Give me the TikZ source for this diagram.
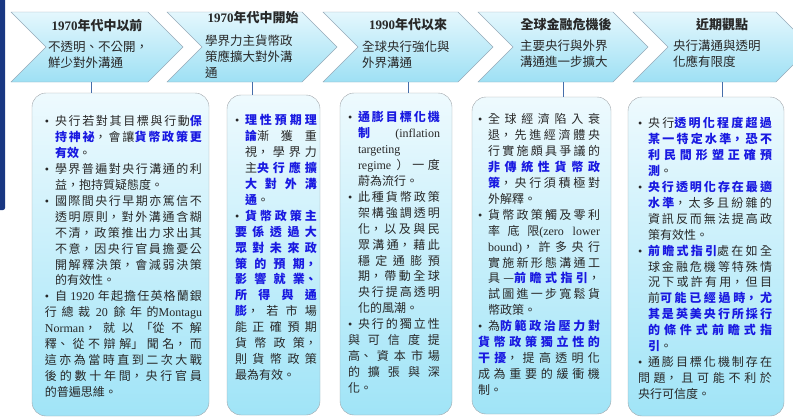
\documentclass[tikz,border=0pt]{standalone}
\usepackage{fontspec}
\setmainfont{Liberation Serif}
\newfontfamily\cjk{Noto Sans CJK TC}
\usepackage{tikz}
\usetikzlibrary{shapes.symbols}

\definecolor{stagetop}{RGB}{228,247,253}
\definecolor{stagebot}{RGB}{158,224,244}
\definecolor{stageline}{RGB}{150,170,185}
\definecolor{boxtop}{RGB}{238,250,254}
\definecolor{boxbot}{RGB}{160,228,247}
\definecolor{boxline}{RGB}{160,165,170}
\definecolor{inkgray}{RGB}{40,40,40}
\definecolor{keyblue}{RGB}{25,25,225}
\definecolor{linkblue}{RGB}{70,110,170}
\definecolor{navybar}{RGB}{25,55,130}

\XeTeXlinebreaklocale "zh"
\XeTeXlinebreakskip=0pt plus 2pt
\tolerance=10000
\hbadness=10000

\newlength{\bulw}
\setlength{\bulw}{10pt}
\newcommand{\bul}{\par\noindent\hangindent=\bulw\hangafter=1\makebox[\bulw][l]{\rmfamily\textbullet}\ignorespaces}
\newcommand{\kb}[1]{{\color{keyblue}\bfseries #1}}
\newcommand{\eng}[1]{{\rmfamily #1}}

\begin{document}
\begin{tikzpicture}[x=1pt,y={(0pt,-1pt)},
  stage node/.style={signal,signal from=west,signal to=east,draw=stageline,top color=stagetop,bottom color=stagebot,minimum height=70pt,inner sep=0pt},
  box node/.style={draw=boxline,rounded corners=14pt,top color=boxtop,bottom color=boxbot,inner sep=0pt},
  head text/.style={font=\cjk\bfseries\fontsize{13}{15}\selectfont,text=inkgray,inner sep=0pt},
  sub text/.style={font=\cjk\fontsize{12.5}{16}\selectfont,text=inkgray,align=left,anchor=north west,inner sep=0pt},
  list text/.style={font=\cjk\fontsize{12}{15.9}\selectfont,text=inkgray,text width=#1,align=justify,anchor=north west,inner sep=0pt},
  link/.style={draw=linkblue,semithick}]

  \useasboundingbox (0,0) rectangle (793,418);
  \fill[navybar,rounded corners=2pt] (-3,-3) rectangle (5,210);

  % stages
  \node[stage node,minimum width=172pt] (c1) at (97,47) {};
  \node[stage node,minimum width=170pt] (c2) at (252,47) {};
  \node[stage node,minimum width=170pt] (c3) at (408,47) {};
  \node[stage node,minimum width=170pt] (c4) at (563,47) {};
  \node[stage node,minimum width=178pt] (c5) at (722,47) {};

  \node[head text] (t1) at (97,26) {\eng{1970}年代中以前};
  \node[head text] (t2) at (253,18) {\eng{1970}年代中開始};
  \node[head text] (t3) at (408,25) {\eng{1990}年代以來};
  \node[head text] (t4) at (566,25) {全球金融危機後};
  \node[head text] (t5) at (722,25) {近期觀點};

  \node[sub text] (s1) at (48,41) {不透明、不公開，\\鮮少對外溝通};
  \node[sub text] (s2) at (205,35) {學界力主貨幣政\\策應擴大對外溝\\通};
  \node[sub text] (s3) at (362,41) {全球央行強化與\\外界溝通};
  \node[sub text] (s4) at (520,40) {主要央行與外界\\溝通進一步擴大};
  \node[sub text] (s5) at (673,40) {央行溝通與透明\\化應有限度};

  % detail boxes
  \node[box node,minimum width=177pt,minimum height=323pt] (b1) at (120.5,254.5) {};
  \node[box node,minimum width=93pt,minimum height=320pt] (b2) at (273.5,255) {};
  \node[box node,minimum width=112pt,minimum height=322pt] (b3) at (396,254) {};
  \node[box node,minimum width=139pt,minimum height=317pt] (b4) at (541.5,255.5) {};
  \node[box node,minimum width=156pt,minimum height=319pt] (b5) at (706,256.5) {};

  \draw[link] ([xshift=-6pt]c1.south) -- ([xshift=-6pt]c1.south |- b1.north);
  \draw[link] (c2.south) -- (c2.south |- b2.north);
  \draw[link] (c3.south) -- (c3.south |- b3.north);
  \draw[link] (c4.south) -- (c4.south |- b4.north);
  \draw[link] (c5.south) -- (c5.south |- b5.north);

  \node[list text=157pt] (x1) at ([xshift=13pt,yshift=-17pt]b1.north west) {%
    \bul 央行若對其目標與行動\kb{保\linebreak 持神祕}，會讓\kb{貨幣政策更\linebreak 有效}。
    \bul 學界普遍對央行溝通的利\linebreak 益，抱持質疑態度。
    \bul 國際間央行早期亦篤信不\linebreak 透明原則，對外溝通含糊\linebreak 不清，政策推出力求出其\linebreak 不意，因央行官員擔憂公\linebreak 開解釋決策，會減弱決策\linebreak 的有效性。
    \bul 自 \eng{1920} 年起擔任英格蘭銀\linebreak 行總裁 \eng{20} 餘年的\eng{Montagu}\linebreak \eng{Norman}，就以「從不解\linebreak 釋、從不辯解」聞名，而\linebreak 這亦為當時直到二次大戰\linebreak 後的數十年間，央行官員\linebreak 的普遍思維。};

  \node[list text=82pt] (x2) at ([xshift=8pt,yshift=-14pt]b2.north west) {%
    \bul \kb{理性預期理\linebreak 論}漸獲重\linebreak 視，學界力\linebreak 主\kb{央行應擴\linebreak 大對外溝\linebreak 通}。
    \bul \kb{貨幣政策主\linebreak 要係透過大\linebreak 眾對未來政\linebreak 策的預期，\linebreak 影響就業、\linebreak 所得與通\linebreak 膨}，若市場\linebreak 能正確預期\linebreak 貨幣政策，\linebreak 則貨幣政策\linebreak 最為有效。};

  \node[list text=92pt] (x3) at ([xshift=8pt,yshift=-13pt]b3.north west) {%
    \bul \kb{通膨目標化機\linebreak 制} \eng{(inflation\linebreak targeting\linebreak regime} ）一度\linebreak 蔚為流行。
    \bul 此種貨幣政策\linebreak 架構強調透明\linebreak 化，以及與民\linebreak 眾溝通，藉此\linebreak 穩定通膨預\linebreak 期，帶動全球\linebreak 央行提高透明\linebreak 化的風潮。
    \bul 央行的獨立性\linebreak 與可信度提\linebreak 高、資本市場\linebreak 的擴張與深\linebreak 化。};

  \node[list text=122pt] (x4) at ([xshift=6pt,yshift=-11pt]b4.north west) {%
    \bul 全球經濟陷入衰\linebreak 退，先進經濟體央\linebreak 行實施頗具爭議的\linebreak \kb{非傳統性貨幣政\linebreak 策}，央行須積極對\linebreak 外解釋。
    \bul 貨幣政策觸及零利\linebreak 率底限\eng{(zero lower\linebreak bound)}，許多央行\linebreak 實施新形態溝通工\linebreak 具—\kb{前瞻式指引}，\linebreak 試圖進一步寬鬆貨\linebreak 幣政策。
    \bul 為\kb{防範政治壓力對\linebreak 貨幣政策獨立性的\linebreak 干擾}，提高透明化\linebreak 成為重要的緩衝機\linebreak 制。};

  \node[list text=134pt] (x5) at ([xshift=10pt,yshift=-15pt]b5.north west) {%
    \bul 央行\kb{透明化程度超過\linebreak 某一特定水準，恐不\linebreak 利民間形塑正確預\linebreak 測}。
    \bul \kb{央行透明化存在最適\linebreak 水準}，太多且紛雜的\linebreak 資訊反而無法提高政\linebreak 策有效性。
    \bul \kb{前瞻式指引}處在如全\linebreak 球金融危機等特殊情\linebreak 況下或許有用，但目\linebreak 前\kb{可能已經過時，尤\linebreak 其是英美央行所採行\linebreak 的條件式前瞻式指\linebreak 引}。
    \bul 通膨目標化機制存在\linebreak 問題，且可能不利於\linebreak 央行可信度。};

\end{tikzpicture}
\end{document}
